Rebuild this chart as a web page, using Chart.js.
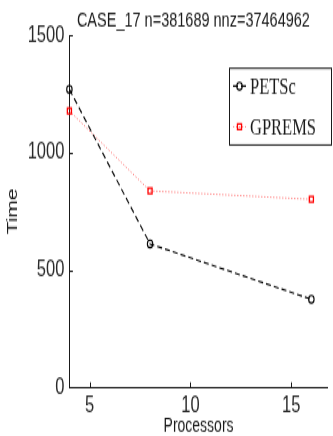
<!DOCTYPE html>
<html>
<head>
<meta charset="utf-8">
<script src="https://cdn.jsdelivr.net/npm/chart.js@4/dist/chart.umd.min.js"></script>
<style>
  html, body { margin: 0; padding: 0; background: #fff; overflow: hidden; }
  #wrap { width: 333px; height: 436px; overflow: hidden; }
  /* the figure is drawn at a reduced height and stretched vertically */
  #c { display: block; width: 333px; height: 311px; transform: scaleY(1.402); transform-origin: 0 0; }
</style>
</head>
<body>
<div id="wrap"><canvas id="c" width="333" height="311"></canvas></div>
<script>
// ---- data ----
const processors = [4, 8, 16];
const petscTime = [1270, 611, 375];
const gpremsTime = [1178, 837, 801];
const seriesNames = ['PETSc', 'GPREMS'];
const xTicks = [5, 10, 15];
const yTicks = [0, 500, 1000, 1500];
const chartTitle = 'CASE_17 n=381689 nnz=37464962';
const xLabel = 'Processors';
const yLabel = 'Time';

const SANS = '"Liberation Sans", Arial, sans-serif';
const SERIF = '"Liberation Serif", "Times New Roman", serif';
const INK = '#1a1a1a';

function toPoints(xs, ys) { return xs.map((x, i) => ({ x: x, y: ys[i] })); }

// inward tick marks, title and boxed legend
const figureDecor = {
  id: 'figureDecor',
  afterDraw(chart) {
    const ctx = chart.ctx;
    const area = chart.chartArea;
    const xs = chart.scales.x, ys = chart.scales.y;
    ctx.save();
    ctx.strokeStyle = INK;
    ctx.lineWidth = 1;
    ctx.beginPath();
    xs.ticks.forEach(t => {
      const px = Math.round(xs.getPixelForValue(t.value)) + 0.5;
      ctx.moveTo(px, area.bottom);
      ctx.lineTo(px, area.bottom - 3.5);
    });
    ys.ticks.forEach(t => {
      const py = Math.round(ys.getPixelForValue(t.value)) + 0.5;
      ctx.moveTo(area.left, py);
      ctx.lineTo(area.left + 3.5, py);
    });
    ctx.stroke();

    // title
    ctx.fillStyle = INK;
    ctx.font = '14.5px ' + SANS;
    ctx.textAlign = 'center';
    ctx.textBaseline = 'alphabetic';
    ctx.fillText(chartTitle, area.left + 124, 19);

    // legend
    const bx = 229.5, by = 48.7, bw = 102, bh = 54.7;
    ctx.fillStyle = '#fff';
    ctx.fillRect(bx, by, bw, bh);
    ctx.strokeStyle = INK;
    ctx.lineWidth = 1;
    ctx.setLineDash([]);
    ctx.strokeRect(bx, by, bw, bh);
    const baselines = [66.6, 95.6];
    chart.data.datasets.forEach((ds, i) => {
      const base = baselines[i];
      const cy = base - 5.2;
      ctx.save();
      ctx.strokeStyle = ds.borderColor;
      ctx.lineWidth = ds.borderWidth;
      ctx.setLineDash(ds.borderDash || []);
      ctx.beginPath();
      ctx.moveTo(233, cy);
      ctx.lineTo(246, cy);
      ctx.stroke();
      ctx.setLineDash([]);
      ctx.strokeStyle = ds.pointBorderColor;
      ctx.fillStyle = 'rgba(0,0,0,0)';
      ctx.lineWidth = ds.pointBorderWidth;
      Chart.helpers.drawPoint(ctx, {
        pointStyle: ds.pointStyle, radius: ds.pointRadius,
        borderWidth: ds.pointBorderWidth, rotation: 0
      }, 239.5, cy);
      ctx.restore();
      ctx.fillStyle = INK;
      ctx.font = '16.5px ' + SERIF;
      ctx.textAlign = 'left';
      ctx.fillText(ds.label, 250, base);
    });
    ctx.restore();
  }
};

new Chart(document.getElementById('c'), {
  type: 'line',
  data: {
    datasets: [
      {
        label: seriesNames[0],
        data: toPoints(processors, petscTime),
        borderColor: '#000',
        borderWidth: 1.1,
        borderDash: [5, 3],
        pointStyle: 'circle',
        pointRadius: 2.7,
        pointBorderColor: '#000',
        pointBackgroundColor: 'rgba(0,0,0,0)',
        pointBorderWidth: 1.1,
        tension: 0,
        fill: false,
        clip: false
      },
      {
        label: seriesNames[1],
        data: toPoints(processors, gpremsTime),
        borderColor: 'rgba(255,40,40,0.6)',
        borderWidth: 1,
        borderDash: [1.2, 1.8],
        pointStyle: 'rect',
        pointRadius: 2.9,
        pointBorderColor: '#ff0000',
        pointBackgroundColor: 'rgba(0,0,0,0)',
        pointBorderWidth: 1.3,
        tension: 0,
        fill: false,
        clip: false
      }
    ]
  },
  options: {
    responsive: false,
    animation: false,
    devicePixelRatio: 1,
    layout: { padding: { top: 25.2, right: 0, bottom: 0, left: 0 } },
    plugins: {
      legend: { display: false },
      title: { display: false },
      tooltip: { enabled: false }
    },
    scales: {
      x: {
        type: 'linear',
        min: 4,
        max: 16.81,
        afterBuildTicks: s => { s.ticks = xTicks.map(v => ({ value: v })); },
        afterFit: s => { s.height = 34.8; },
        grid: { display: false, drawTicks: false },
        border: { display: true, color: INK, width: 1 },
        ticks: {
          color: '#2a2a2a', padding: 3, maxRotation: 0, autoSkip: false,
          font: { family: SANS, size: 16.5 },
          callback: v => String(v)
        },
        title: {
          display: true, text: xLabel, color: INK,
          font: { family: SANS, size: 14, lineHeight: 1 },
          padding: { top: 0, bottom: 0 }
        }
      },
      y: {
        min: 0,
        max: 1500,
        afterBuildTicks: s => { s.ticks = yTicks.map(v => ({ value: v })); },
        afterFit: s => { s.width = 69.4; },
        grid: { display: false, drawTicks: false },
        border: { display: true, color: INK, width: 1 },
        ticks: {
          color: '#2a2a2a', padding: 5, autoSkip: false,
          font: { family: SANS, size: 16.5 },
          callback: v => String(v)
        },
        title: {
          display: true, text: yLabel, color: INK,
          font: { family: SANS, size: 15, lineHeight: 1.2 },
          padding: { top: 4.3, bottom: 0 }
        }
      }
    }
  },
  plugins: [figureDecor]
});
</script>
</body>
</html>
